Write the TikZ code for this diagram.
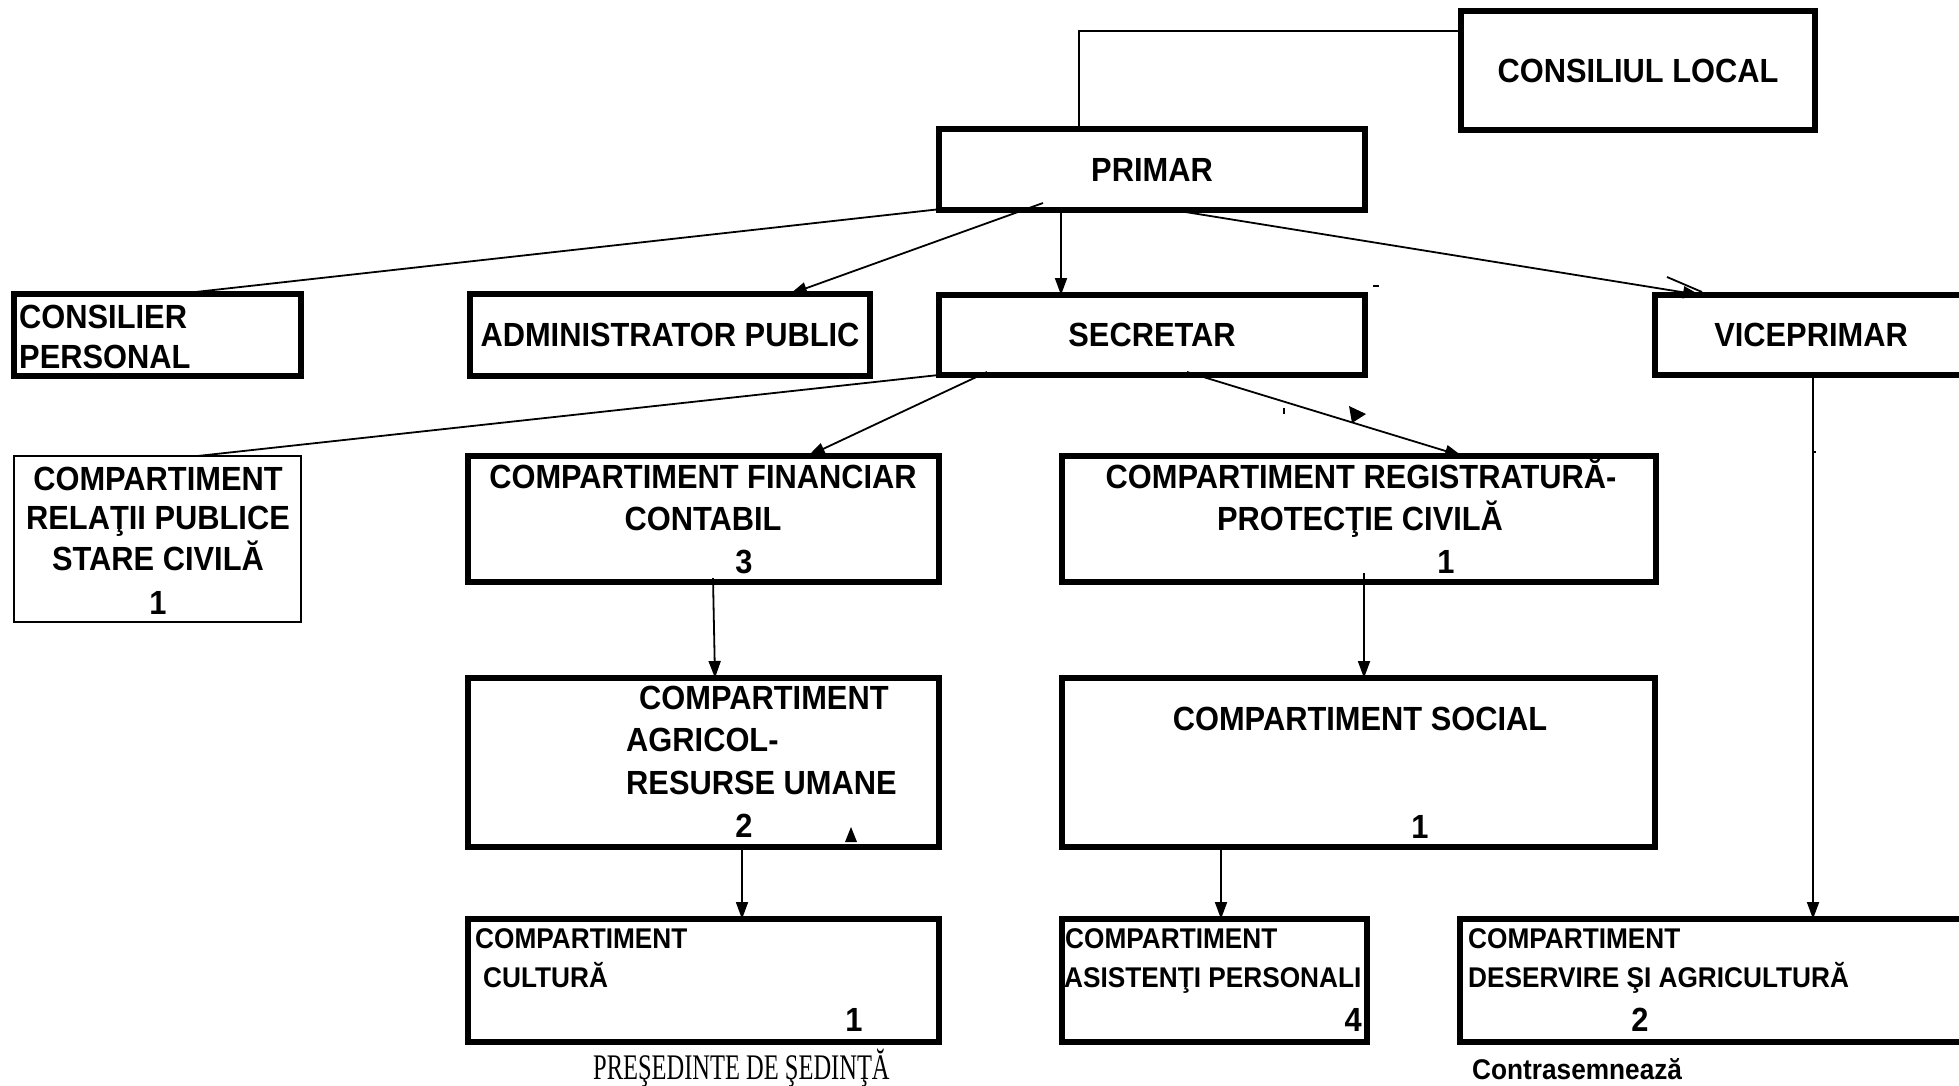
\documentclass[tikz,border=0pt]{standalone}
\usepackage{fontspec}
\usepackage{graphicx}
\setmainfont{Liberation Sans}[FakeStretch=0.92]
\newfontfamily\serifrm{Liberation Serif}
\usetikzlibrary{arrows.meta}
\tikzset{
  bigbox/.style={draw, line width=5.5pt, rectangle, inner sep=0pt, outer sep=0pt},
  thinbox/.style={draw, line width=2.5pt, rectangle, inner sep=0pt, outer sep=0pt},
  conn/.style={line width=1.8pt},
  arr/.style={conn, -{Triangle[length=17pt,width=12pt]}},
  tA/.style={font=\fontsize{33.5}{38}\selectfont\bfseries, inner sep=0pt},
  tB/.style={font=\fontsize{28.5}{32}\selectfont\bfseries, inner sep=0pt},
  stray/.style={line width=1.8pt},
}
\begin{document}
\begin{tikzpicture}[x=1pt,y=-1pt]
\useasboundingbox (0,0) rectangle (1959,1085);
\fill[white] (0,0) rectangle (1959,1085);

% boxes
\node[bigbox, minimum width=354pt, minimum height=119pt] (CL) at (1638,70.5) {};
\node[bigbox, minimum width=426pt, minimum height=81pt] (PRIMAR) at (1152,169.5) {};
\node[bigbox, minimum width=287pt, minimum height=82pt] (CONS) at (157.5,335) {};
\node[bigbox, minimum width=400pt, minimum height=82pt] (ADMIN) at (670,335) {};
\node[bigbox, minimum width=426pt, minimum height=80pt] (SEC) at (1152,335) {};
\node[bigbox, minimum width=320pt, minimum height=80pt] (VICE) at (1815,335) {};
\node[thinbox, minimum width=287pt, minimum height=166pt] (REL) at (157.5,539) {};
\node[bigbox, minimum width=471pt, minimum height=126pt] (FIN) at (703.5,519) {};
\node[bigbox, minimum width=594pt, minimum height=126pt] (REG) at (1359,519) {};
\node[bigbox, minimum width=471pt, minimum height=169pt] (AGR) at (703.5,762.5) {};
\node[bigbox, minimum width=593pt, minimum height=169pt] (SOC) at (1358.5,762.5) {};
\node[bigbox, minimum width=471pt, minimum height=123pt] (CUL) at (703.5,980.5) {};
\node[bigbox, minimum width=305pt, minimum height=123pt] (ASI) at (1214.5,980.5) {};
\node[bigbox, minimum width=515pt, minimum height=123pt] (DES) at (1717.5,980.5) {};

% texts
\node[tA] (tCL) at (1638,71) {CONSILIUL LOCAL};
\node[tA] (tPR) at (1152,170) {PRIMAR};
\node[tA] (tSE) at (1152,335) {SECRETAR};
\node[tA] (tVI) at (1811,335) {VICEPRIMAR};
\node[tA] (tAD) at (670,335) {ADMINISTRATOR PUBLIC};
\node[tA, anchor=base west] (tCO1) at (19,328) {CONSILIER};
\node[tA, anchor=base west] (tCO2) at (19,368) {PERSONAL};

\node[tA, anchor=base] (tRE1) at (158,490) {COMPARTIMENT};
\node[tA, anchor=base] (tRE2) at (158,529) {RELAŢII PUBLICE};
\node[tA, anchor=base] (tRE3) at (158,570) {STARE CIVILĂ};
\node[tA, anchor=base] (tRE4) at (158,614) {1};

\node[tA, anchor=base] (tFI1) at (703,488) {COMPARTIMENT FINANCIAR};
\node[tA, anchor=base] (tFI2) at (703,530) {CONTABIL};
\node[tA, anchor=base] (tFI3) at (744,573) {3};

\node[tA, anchor=base] (tRG1) at (1361,488) {COMPARTIMENT REGISTRATURĂ-};
\node[tA, anchor=base] (tRG2) at (1360,530) {PROTECŢIE CIVILĂ};
\node[tA, anchor=base] (tRG3) at (1446,573) {1};

\node[tA, anchor=base west] (tAG1) at (639,709) {COMPARTIMENT};
\node[tA, anchor=base west] (tAG2) at (626,751) {AGRICOL-};
\node[tA, anchor=base west] (tAG3) at (626,794) {RESURSE UMANE};
\node[tA, anchor=base] (tAG4) at (744,837) {2};

\node[tA, anchor=base] (tSO1) at (1360,730) {COMPARTIMENT SOCIAL};
\node[tA, anchor=base] (tSO2) at (1420,838) {1};

\node[tB, anchor=base west] (tCU1) at (475,948) {COMPARTIMENT};
\node[tB, anchor=base west] (tCU2) at (483,987) {CULTURĂ};
\node[tA, anchor=base] (tCU3) at (854,1031) {1};

\node[tB, anchor=base west] (tAS1) at (1065,948) {COMPARTIMENT};
\node[tB, anchor=base west] (tAS2) at (1064,987) {ASISTENŢI PERSONALI};
\node[tA, anchor=base east] (tAS3) at (1362,1031) {4};

\node[tB, anchor=base west] (tDE1) at (1468,948) {COMPARTIMENT};
\node[tB, anchor=base west] (tDE2) at (1468,987) {DESERVIRE ŞI AGRICULTURĂ};
\node[tA, anchor=base] (tDE3) at (1640,1031) {2};

\node[anchor=base west, inner sep=0pt, font=\serifrm\fontsize{36}{40}\selectfont] (tPS) at (593,1079) {\scalebox{0.68}[1]{PREŞEDINTE DE ŞEDINŢĂ}};
\node[tB, anchor=base west] (tCT) at (1472,1079) {Contrasemnează};

% connectors
\draw[conn] ([yshift=39.5pt]CL.west) -| ([xshift=-73pt]PRIMAR.north);
\draw[conn] ([xshift=-202pt,yshift=2pt]PRIMAR.south) -- ([xshift=20pt]CONS.north);
\draw[arr] ([xshift=-109pt,yshift=7pt]PRIMAR.south) -- ([xshift=120pt]ADMIN.north);
\draw[arr] ([xshift=-91pt]PRIMAR.south) -- ([xshift=-91pt]SEC.north);
\draw[arr] ([xshift=21pt]PRIMAR.south) -- ([xshift=-115pt]VICE.north);
\draw[conn] ([xshift=-195pt,yshift=2pt]SEC.south) -- ([xshift=40pt]REL.north);
\draw[arr] ([xshift=-165pt,yshift=3pt]SEC.south) -- ([xshift=104.5pt]FIN.north);
\draw[arr] ([xshift=35pt,yshift=3pt]SEC.south) -- ([xshift=103pt]REG.north);
\draw[arr] ([xshift=9.5pt,yshift=4pt]FIN.south) -- ([xshift=11.5pt]AGR.north);
\draw[arr] ([xshift=5pt,yshift=9pt]REG.south) -- ([xshift=5.5pt]SOC.north);
\draw[arr] ([xshift=38.5pt]AGR.south) -- ([xshift=38.5pt]CUL.north);
\draw[arr] ([xshift=-137.5pt]SOC.south) -- ([xshift=6.5pt]ASI.north);
\draw[arr] ([xshift=-2pt]VICE.south) -- ([xshift=95.5pt]DES.north);

% stray marks
\draw[stray] (1667,277) -- (1702,292);
\draw[stray] (1373,286) -- (1379,286);
\draw[stray] (1284,408) -- (1284,414);
\draw[stray] (1813,452) -- (1816,452);
\fill (1366,414) -- (1349,406) -- (1352,423) -- cycle;
\fill (851,827) -- (845,842) -- (857,842) -- cycle;
\end{tikzpicture}
\end{document}
